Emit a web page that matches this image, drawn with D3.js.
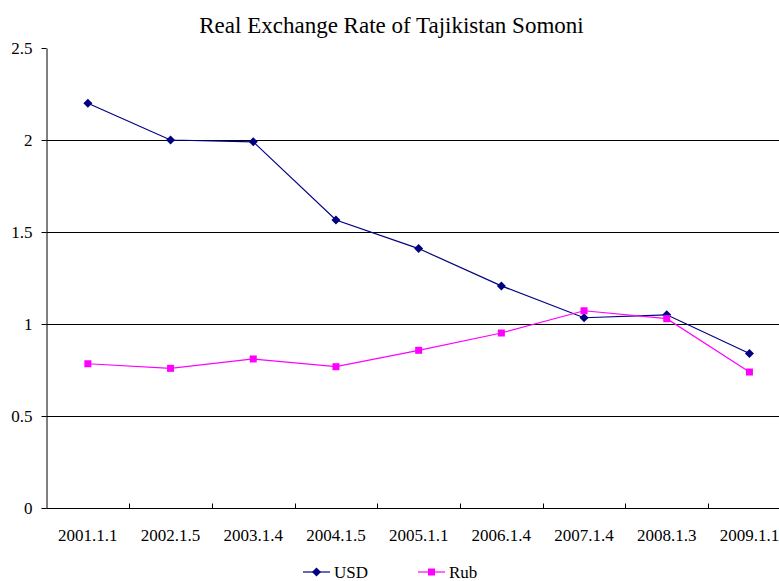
<!DOCTYPE html>
<html>
<head>
<meta charset="utf-8">
<script src="https://cdn.jsdelivr.net/npm/d3@7"></script>
<style>
  body { margin: 0; background: #fff; }
  svg { display: block; }
  svg text { font-family: "Liberation Serif", "Times New Roman", serif; }
</style>
</head>
<body>
<svg></svg>
<script>
var screen = {width: 779, height: 581}
var margins = {top: 48, left: 46.5, bottom: 73}

// data
var dates = ["2001.1.1", "2002.1.5", "2003.1.4", "2004.1.5", "2005.1.1", "2006.1.4", "2007.1.4", "2008.1.3", "2009.1.1"]
var usd = [2.20, 2.00, 1.99, 1.565, 1.41, 1.207, 1.034, 1.05, 0.84]
var rub = [0.784, 0.759, 0.81, 0.768, 0.857, 0.951, 1.072, 1.029, 0.739]
var yTicks = [0, 0.5, 1, 1.5, 2, 2.5]

var svg = d3.select("svg")
    .attr("width", screen.width)
    .attr("height", screen.height)

var height = screen.height - margins.top - margins.bottom
var bandW = 82.7

var xScale = d3.scaleBand()
    .domain(dates)
    .range([margins.left, margins.left + bandW * dates.length])

var yScale = d3.scaleLinear()
    .domain([0, 2.5])
    .range([margins.top + height, margins.top])

// diamond marker, as wide as it is tall
var diamond = "M0,-4.5L4.5,0L0,4.5L-4.5,0Z"

// title
svg.append("text")
    .attr("x", 391.5)
    .attr("y", 33)
    .attr("text-anchor", "middle")
    .style("font-size", "23px")
    .text("Real Exchange Rate of Tajikistan Somoni")

// gridlines
svg.append("g")
    .selectAll("line")
    .data(yTicks.filter(function(d){ return d > 0 && d < 2.5 }))
    .enter()
    .append("line")
    .attr("x1", margins.left)
    .attr("x2", screen.width)
    .attr("y1", function(d){ return Math.round(yScale(d)) + 0.5 })
    .attr("y2", function(d){ return Math.round(yScale(d)) + 0.5 })
    .attr("stroke", "#000")
    .attr("stroke-width", 1)

// y axis
var yAxis = d3.axisLeft(yScale)
    .tickValues(yTicks)
    .tickFormat(function(d){ return d })
    .tickSize(5)
    .tickSizeOuter(0)
    .tickPadding(9)

var yg = svg.append("g")
    .attr("transform", "translate(" + margins.left + ",0)")
    .call(yAxis)
yg.select(".domain").attr("stroke", "#000")
yg.selectAll("text").style("font-size", "17px").attr("fill", "#000")

// x axis
var xg = svg.append("g")
    .attr("transform", "translate(0," + (Math.round(yScale(0)) + 0.5) + ")")
xg.append("line")
    .attr("x1", margins.left)
    .attr("x2", screen.width)
    .attr("stroke", "#000")
xg.selectAll(".tick")
    .data(dates.slice(1))
    .enter()
    .append("line")
    .attr("x1", function(d){ return Math.round(xScale(d)) + 0.5 })
    .attr("x2", function(d){ return Math.round(xScale(d)) + 0.5 })
    .attr("y1", 0)
    .attr("y2", -5)
    .attr("stroke", "#000")
xg.selectAll(".lbl")
    .data(dates)
    .enter()
    .append("text")
    .attr("x", function(d){ return xScale(d) + xScale.bandwidth() / 2 })
    .attr("y", 32)
    .attr("text-anchor", "middle")
    .style("font-size", "17px")
    .text(function(d){ return d })

var cx = function(d, i){ return xScale(dates[i]) + xScale.bandwidth() / 2 }

var line = d3.line()
    .x(function(d, i){ return cx(d, i) })
    .y(function(d){ return yScale(d) })

// USD series
svg.append("path")
    .datum(usd)
    .attr("d", line)
    .attr("fill", "none")
    .attr("stroke", "#000080")
    .attr("stroke-width", 1.2)

svg.append("g")
    .selectAll("path")
    .data(usd)
    .enter()
    .append("path")
    .attr("d", diamond)
    .attr("transform", function(d, i){ return "translate(" + cx(d, i) + "," + yScale(d) + ")" })
    .attr("fill", "#000080")

// Rub series
svg.append("path")
    .datum(rub)
    .attr("d", line)
    .attr("fill", "none")
    .attr("stroke", "#ff00ff")
    .attr("stroke-width", 1.2)

svg.append("g")
    .selectAll("rect")
    .data(rub)
    .enter()
    .append("rect")
    .attr("x", function(d, i){ return cx(d, i) - 3.5 })
    .attr("y", function(d){ return yScale(d) - 3.5 })
    .attr("width", 7)
    .attr("height", 7)
    .attr("fill", "#ff00ff")

// legend
var legend = svg.append("g").attr("transform", "translate(0,572)")
var items = [
    {name: "USD", color: "#000080", x: 303, shape: "diamond"},
    {name: "Rub", color: "#ff00ff", x: 418, shape: "square"}
]
items.forEach(function(it){
    legend.append("line")
        .attr("x1", it.x).attr("x2", it.x + 27)
        .attr("y1", 0).attr("y2", 0)
        .attr("stroke", it.color)
        .attr("stroke-width", 1.2)
    if (it.shape == "diamond") {
        legend.append("path")
            .attr("d", diamond)
            .attr("transform", "translate(" + (it.x + 13.5) + ",0)")
            .attr("fill", it.color)
    } else {
        legend.append("rect")
            .attr("x", it.x + 10).attr("y", -3.5)
            .attr("width", 7).attr("height", 7)
            .attr("fill", it.color)
    }
    legend.append("text")
        .attr("x", it.x + 31)
        .attr("y", 5.5)
        .style("font-size", "17px")
        .text(it.name)
})
</script>
</body>
</html>
